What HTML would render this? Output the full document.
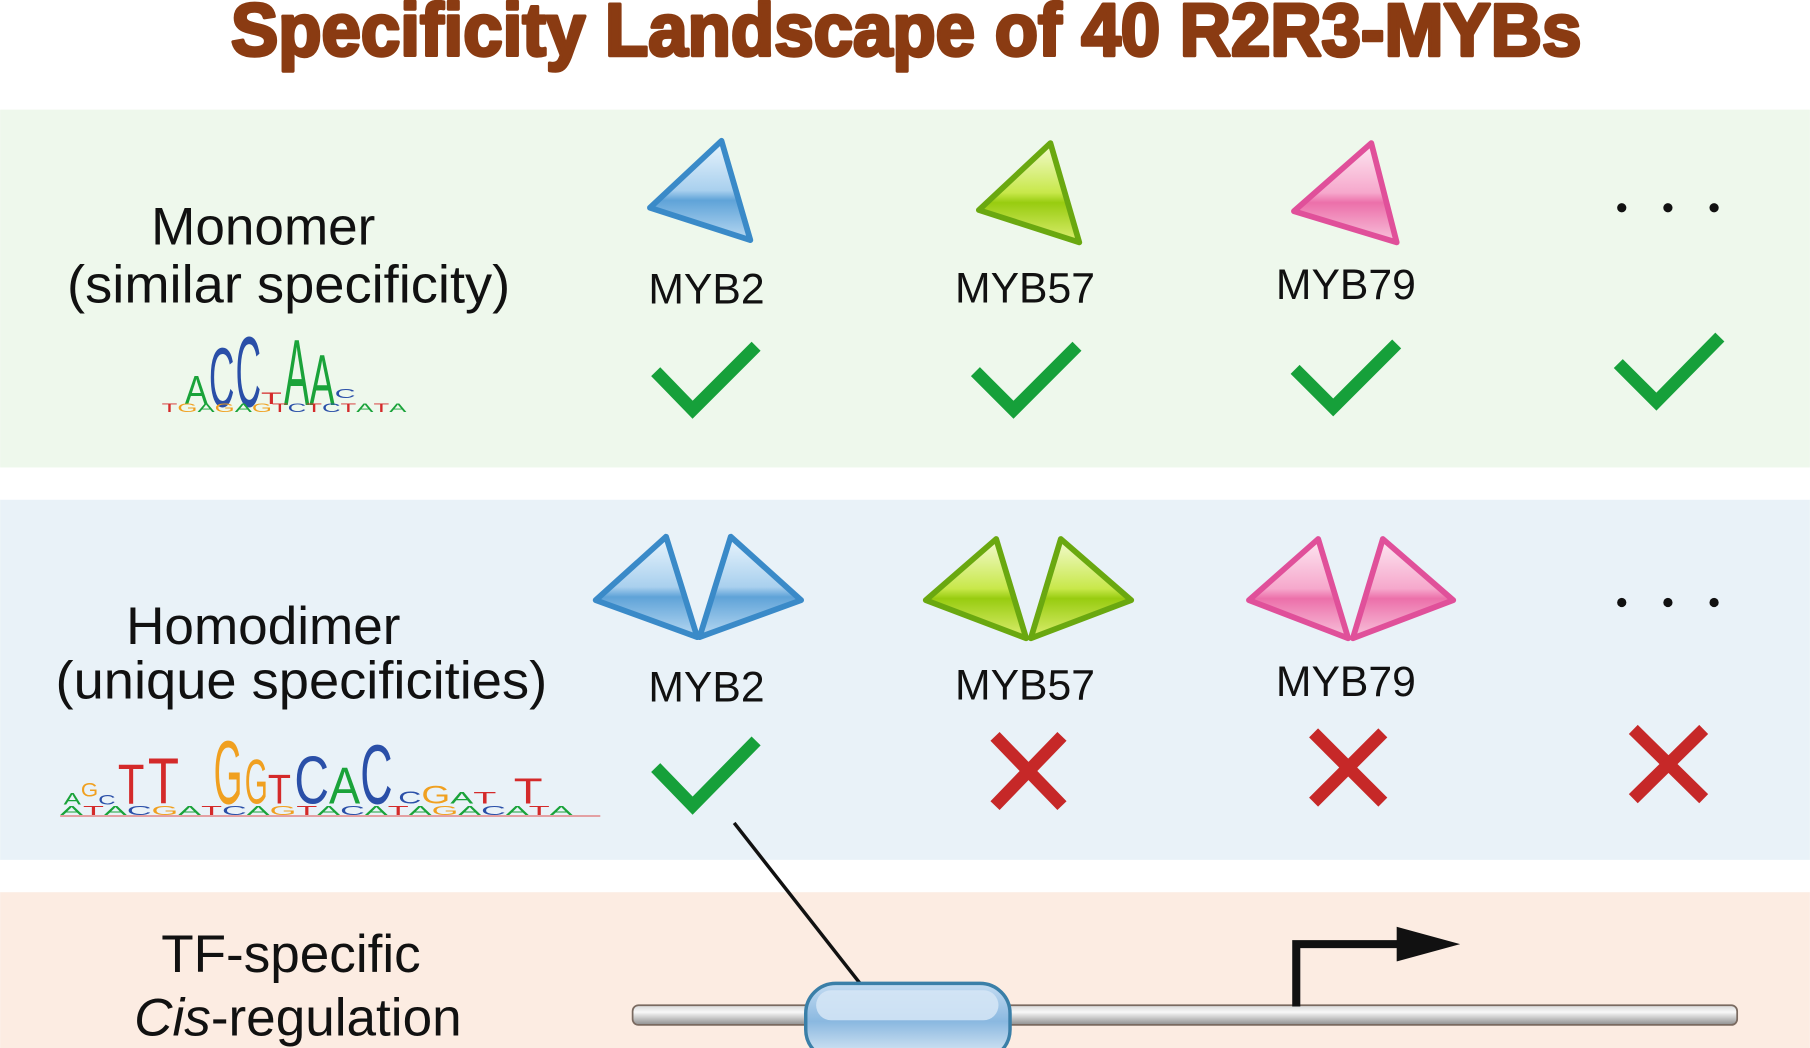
<!DOCTYPE html>
<html><head><meta charset="utf-8"><style>html,body{margin:0;padding:0;background:#fff}svg{display:block}</style></head>
<body>
<svg width="1810" height="1048" viewBox="0 0 1568 908" xmlns="http://www.w3.org/2000/svg" font-family="Liberation Sans, sans-serif">
<defs>
<linearGradient id="gb" x1="0" y1="0" x2="0" y2="1"><stop offset="0" stop-color="#eaf5fd"/><stop offset="0.5" stop-color="#a9d0ee"/><stop offset="0.6" stop-color="#5fa3d8"/><stop offset="1" stop-color="#b9d9f2"/></linearGradient>
<linearGradient id="gg" x1="0" y1="0" x2="0" y2="1"><stop offset="0" stop-color="#f4fbd2"/><stop offset="0.5" stop-color="#c8e84a"/><stop offset="0.6" stop-color="#98cc10"/><stop offset="1" stop-color="#dcee70"/></linearGradient>
<linearGradient id="gp" x1="0" y1="0" x2="0" y2="1"><stop offset="0" stop-color="#fde8f2"/><stop offset="0.5" stop-color="#f6a8cc"/><stop offset="0.6" stop-color="#ec70aa"/><stop offset="1" stop-color="#f8c4dc"/></linearGradient>
<linearGradient id="bar" x1="0" y1="0" x2="0" y2="1"><stop offset="0" stop-color="#d8d8d8"/><stop offset="0.35" stop-color="#f8f8f8"/><stop offset="1" stop-color="#8e8e8e"/></linearGradient>
<linearGradient id="box" x1="0" y1="0" x2="0" y2="1"><stop offset="0" stop-color="#c4dcf2"/><stop offset="0.5" stop-color="#8ab8e0"/><stop offset="1" stop-color="#e0ecf6"/></linearGradient>
</defs>
<rect x="0" y="95" width="1568" height="310" fill="#eef8ec"/>
<rect x="0" y="433" width="1568" height="312" fill="#e9f2f8"/>
<rect x="0" y="773" width="1568" height="135" fill="#fcece2"/>

<text x="200" y="48" font-size="64" font-weight="bold" fill="#8a3b12" stroke="#8a3b12" stroke-width="3" stroke-linejoin="round" textLength="1170" lengthAdjust="spacingAndGlyphs">Specificity Landscape of 40 R2R3-MYBs</text>

<g font-size="46" fill="#111" text-anchor="middle">
<text x="228" y="212">Monomer</text>
<text x="250" y="262" textLength="384" lengthAdjust="spacingAndGlyphs">(similar specificity)</text>
<text x="228" y="558">Homodimer</text>
<text x="261" y="605" textLength="426" lengthAdjust="spacingAndGlyphs">(unique specificities)</text>
<text x="252" y="842">TF-specific</text>
<text x="258" y="897"><tspan font-style="italic">Cis</tspan>-regulation</text>
</g>

<g font-size="37" fill="#111" text-anchor="middle">
<text x="612" y="263">MYB2</text><text x="888" y="262">MYB57</text><text x="1166" y="259">MYB79</text>
<text x="612" y="608">MYB2</text><text x="888" y="606">MYB57</text><text x="1166" y="603">MYB79</text>
</g>

<g stroke-width="5" stroke-linejoin="round">
<polygon points="625,122 650,208 563,180" fill="url(#gb)" stroke="#3a8ac8"/>
<polygon points="910,124 935,210 848,182" fill="url(#gg)" stroke="#6aa810"/>
<polygon points="1188,124 1210,210 1121,183" fill="url(#gp)" stroke="#e0509a"/>
<polygon points="577,465 604,552 516,520" fill="url(#gb)" stroke="#3a8ac8"/>
<polygon points="633,465 606,552 694,520" fill="url(#gb)" stroke="#3a8ac8"/>
<polygon points="863,467 889,553 802,520" fill="url(#gg)" stroke="#6aa810"/>
<polygon points="919,467 893,553 980,520" fill="url(#gg)" stroke="#6aa810"/>
<polygon points="1142,467 1168,553 1082,520" fill="url(#gp)" stroke="#e0509a"/>
<polygon points="1198,467 1172,553 1259,520" fill="url(#gp)" stroke="#e0509a"/>
</g>

<g fill="#111">
<circle cx="1405" cy="180" r="4"/><circle cx="1445" cy="180" r="4"/><circle cx="1485" cy="180" r="4"/>
<circle cx="1405" cy="522" r="4"/><circle cx="1445" cy="522" r="4"/><circle cx="1485" cy="522" r="4"/>
</g>

<g fill="none" stroke="#16a03a" stroke-width="11" stroke-linecap="butt">
<polyline points="568,322 600,355 655,300"/>
<polyline points="845,322 878,355 933,300"/>
<polyline points="1122,320 1155,353 1210,298"/>
<polyline points="1402,315 1435,348 1490,292"/>
<polyline points="568,665 600,698 655,642"/>
</g>
<g stroke="#c62828" stroke-width="11">
<line x1="862" y1="638" x2="920" y2="698"/><line x1="920" y1="638" x2="862" y2="698"/>
<line x1="1138" y1="635" x2="1198" y2="695"/><line x1="1198" y1="635" x2="1138" y2="695"/>
<line x1="1415" y1="632" x2="1476" y2="692"/><line x1="1476" y1="632" x2="1415" y2="692"/>
</g>

<g>
<text x="160" y="350" font-size="35" textLength="20" lengthAdjust="spacingAndGlyphs" fill="#1aa33a">A</text>
<text x="181" y="352" font-size="73" textLength="22" lengthAdjust="spacingAndGlyphs" fill="#2a4fa8">C</text>
<text x="204" y="352" font-size="87" textLength="22" lengthAdjust="spacingAndGlyphs" fill="#2a4fa8">C</text>
<text x="226" y="350" font-size="14" textLength="18" lengthAdjust="spacingAndGlyphs" fill="#d42a2a">T</text>
<text x="246" y="351" font-size="81" textLength="22" lengthAdjust="spacingAndGlyphs" fill="#1aa33a">A</text>
<text x="268" y="351" font-size="63" textLength="22" lengthAdjust="spacingAndGlyphs" fill="#1aa33a">A</text>
<text x="290" y="345" font-size="11" textLength="18" lengthAdjust="spacingAndGlyphs" fill="#2a4fa8">C</text>
<text x="140" y="357" font-size="10" textLength="212" lengthAdjust="spacingAndGlyphs"><tspan fill="#d42a2a">T</tspan><tspan fill="#f0a020">G</tspan><tspan fill="#1aa33a">A</tspan><tspan fill="#f0a020">G</tspan><tspan fill="#1aa33a">A</tspan><tspan fill="#f0a020">G</tspan><tspan fill="#d42a2a">T</tspan><tspan fill="#2a4fa8">C</tspan><tspan fill="#d42a2a">T</tspan><tspan fill="#2a4fa8">C</tspan><tspan fill="#d42a2a">T</tspan><tspan fill="#1aa33a">A</tspan><tspan fill="#d42a2a">T</tspan><tspan fill="#1aa33a">A</tspan></text>
</g>

<g>
<text x="55" y="697" font-size="14" textLength="15" lengthAdjust="spacingAndGlyphs" fill="#1aa33a">A</text>
<text x="70" y="690" font-size="17" textLength="15" lengthAdjust="spacingAndGlyphs" fill="#f0a020">G</text>
<text x="85" y="697" font-size="12" textLength="15" lengthAdjust="spacingAndGlyphs" fill="#2a4fa8">C</text>
<text x="102" y="696" font-size="49" textLength="23" lengthAdjust="spacingAndGlyphs" fill="#d42a2a">T</text>
<text x="128" y="696" font-size="56" textLength="27" lengthAdjust="spacingAndGlyphs" fill="#d42a2a">T</text>
<text x="185" y="696" font-size="78" textLength="25" lengthAdjust="spacingAndGlyphs" fill="#f0a020">G</text>
<text x="212" y="696" font-size="55" textLength="20" lengthAdjust="spacingAndGlyphs" fill="#f0a020">G</text>
<text x="232" y="696" font-size="36" textLength="20" lengthAdjust="spacingAndGlyphs" fill="#d42a2a">T</text>
<text x="255" y="696" font-size="59" textLength="30" lengthAdjust="spacingAndGlyphs" fill="#2a4fa8">C</text>
<text x="285" y="696" font-size="45" textLength="27" lengthAdjust="spacingAndGlyphs" fill="#1aa33a">A</text>
<text x="312" y="696" font-size="73" textLength="28" lengthAdjust="spacingAndGlyphs" fill="#2a4fa8">C</text>
<text x="345" y="696" font-size="15" textLength="20" lengthAdjust="spacingAndGlyphs" fill="#2a4fa8">C</text>
<text x="365" y="696" font-size="22" textLength="25" lengthAdjust="spacingAndGlyphs" fill="#f0a020">G</text>
<text x="390" y="696" font-size="14" textLength="20" lengthAdjust="spacingAndGlyphs" fill="#1aa33a">A</text>
<text x="410" y="696" font-size="14" textLength="20" lengthAdjust="spacingAndGlyphs" fill="#d42a2a">T</text>
<text x="445" y="696" font-size="31" textLength="25" lengthAdjust="spacingAndGlyphs" fill="#d42a2a">T</text>
<text x="52" y="706" font-size="11" textLength="444" lengthAdjust="spacingAndGlyphs"><tspan fill="#1aa33a">A</tspan><tspan fill="#d42a2a">T</tspan><tspan fill="#1aa33a">A</tspan><tspan fill="#2a4fa8">C</tspan><tspan fill="#f0a020">G</tspan><tspan fill="#1aa33a">A</tspan><tspan fill="#d42a2a">T</tspan><tspan fill="#2a4fa8">C</tspan><tspan fill="#1aa33a">A</tspan><tspan fill="#f0a020">G</tspan><tspan fill="#d42a2a">T</tspan><tspan fill="#1aa33a">A</tspan><tspan fill="#2a4fa8">C</tspan><tspan fill="#1aa33a">A</tspan><tspan fill="#d42a2a">T</tspan><tspan fill="#1aa33a">A</tspan><tspan fill="#f0a020">G</tspan><tspan fill="#1aa33a">A</tspan><tspan fill="#2a4fa8">C</tspan><tspan fill="#1aa33a">A</tspan><tspan fill="#d42a2a">T</tspan><tspan fill="#1aa33a">A</tspan></text>
<line x1="52" y1="707" x2="520" y2="707" stroke="#e07070" stroke-width="1"/>
</g>

<line x1="636" y1="713" x2="745" y2="852" stroke="#111" stroke-width="3"/>
<rect x="548" y="871" width="957" height="17" rx="5" fill="url(#bar)" stroke="#7a6a60" stroke-width="1.5"/>
<rect x="698" y="852" width="177" height="66" rx="26" fill="url(#box)" stroke="#3a7fa8" stroke-width="3"/>
<rect x="707" y="858" width="158" height="26" rx="13" fill="#d6e6f6" opacity="0.85"/>
<path d="M1123 872 V818 H1215" fill="none" stroke="#111" stroke-width="7"/>
<polygon points="1210,803 1265,818 1210,833" fill="#111"/>
</svg>
</body></html>
